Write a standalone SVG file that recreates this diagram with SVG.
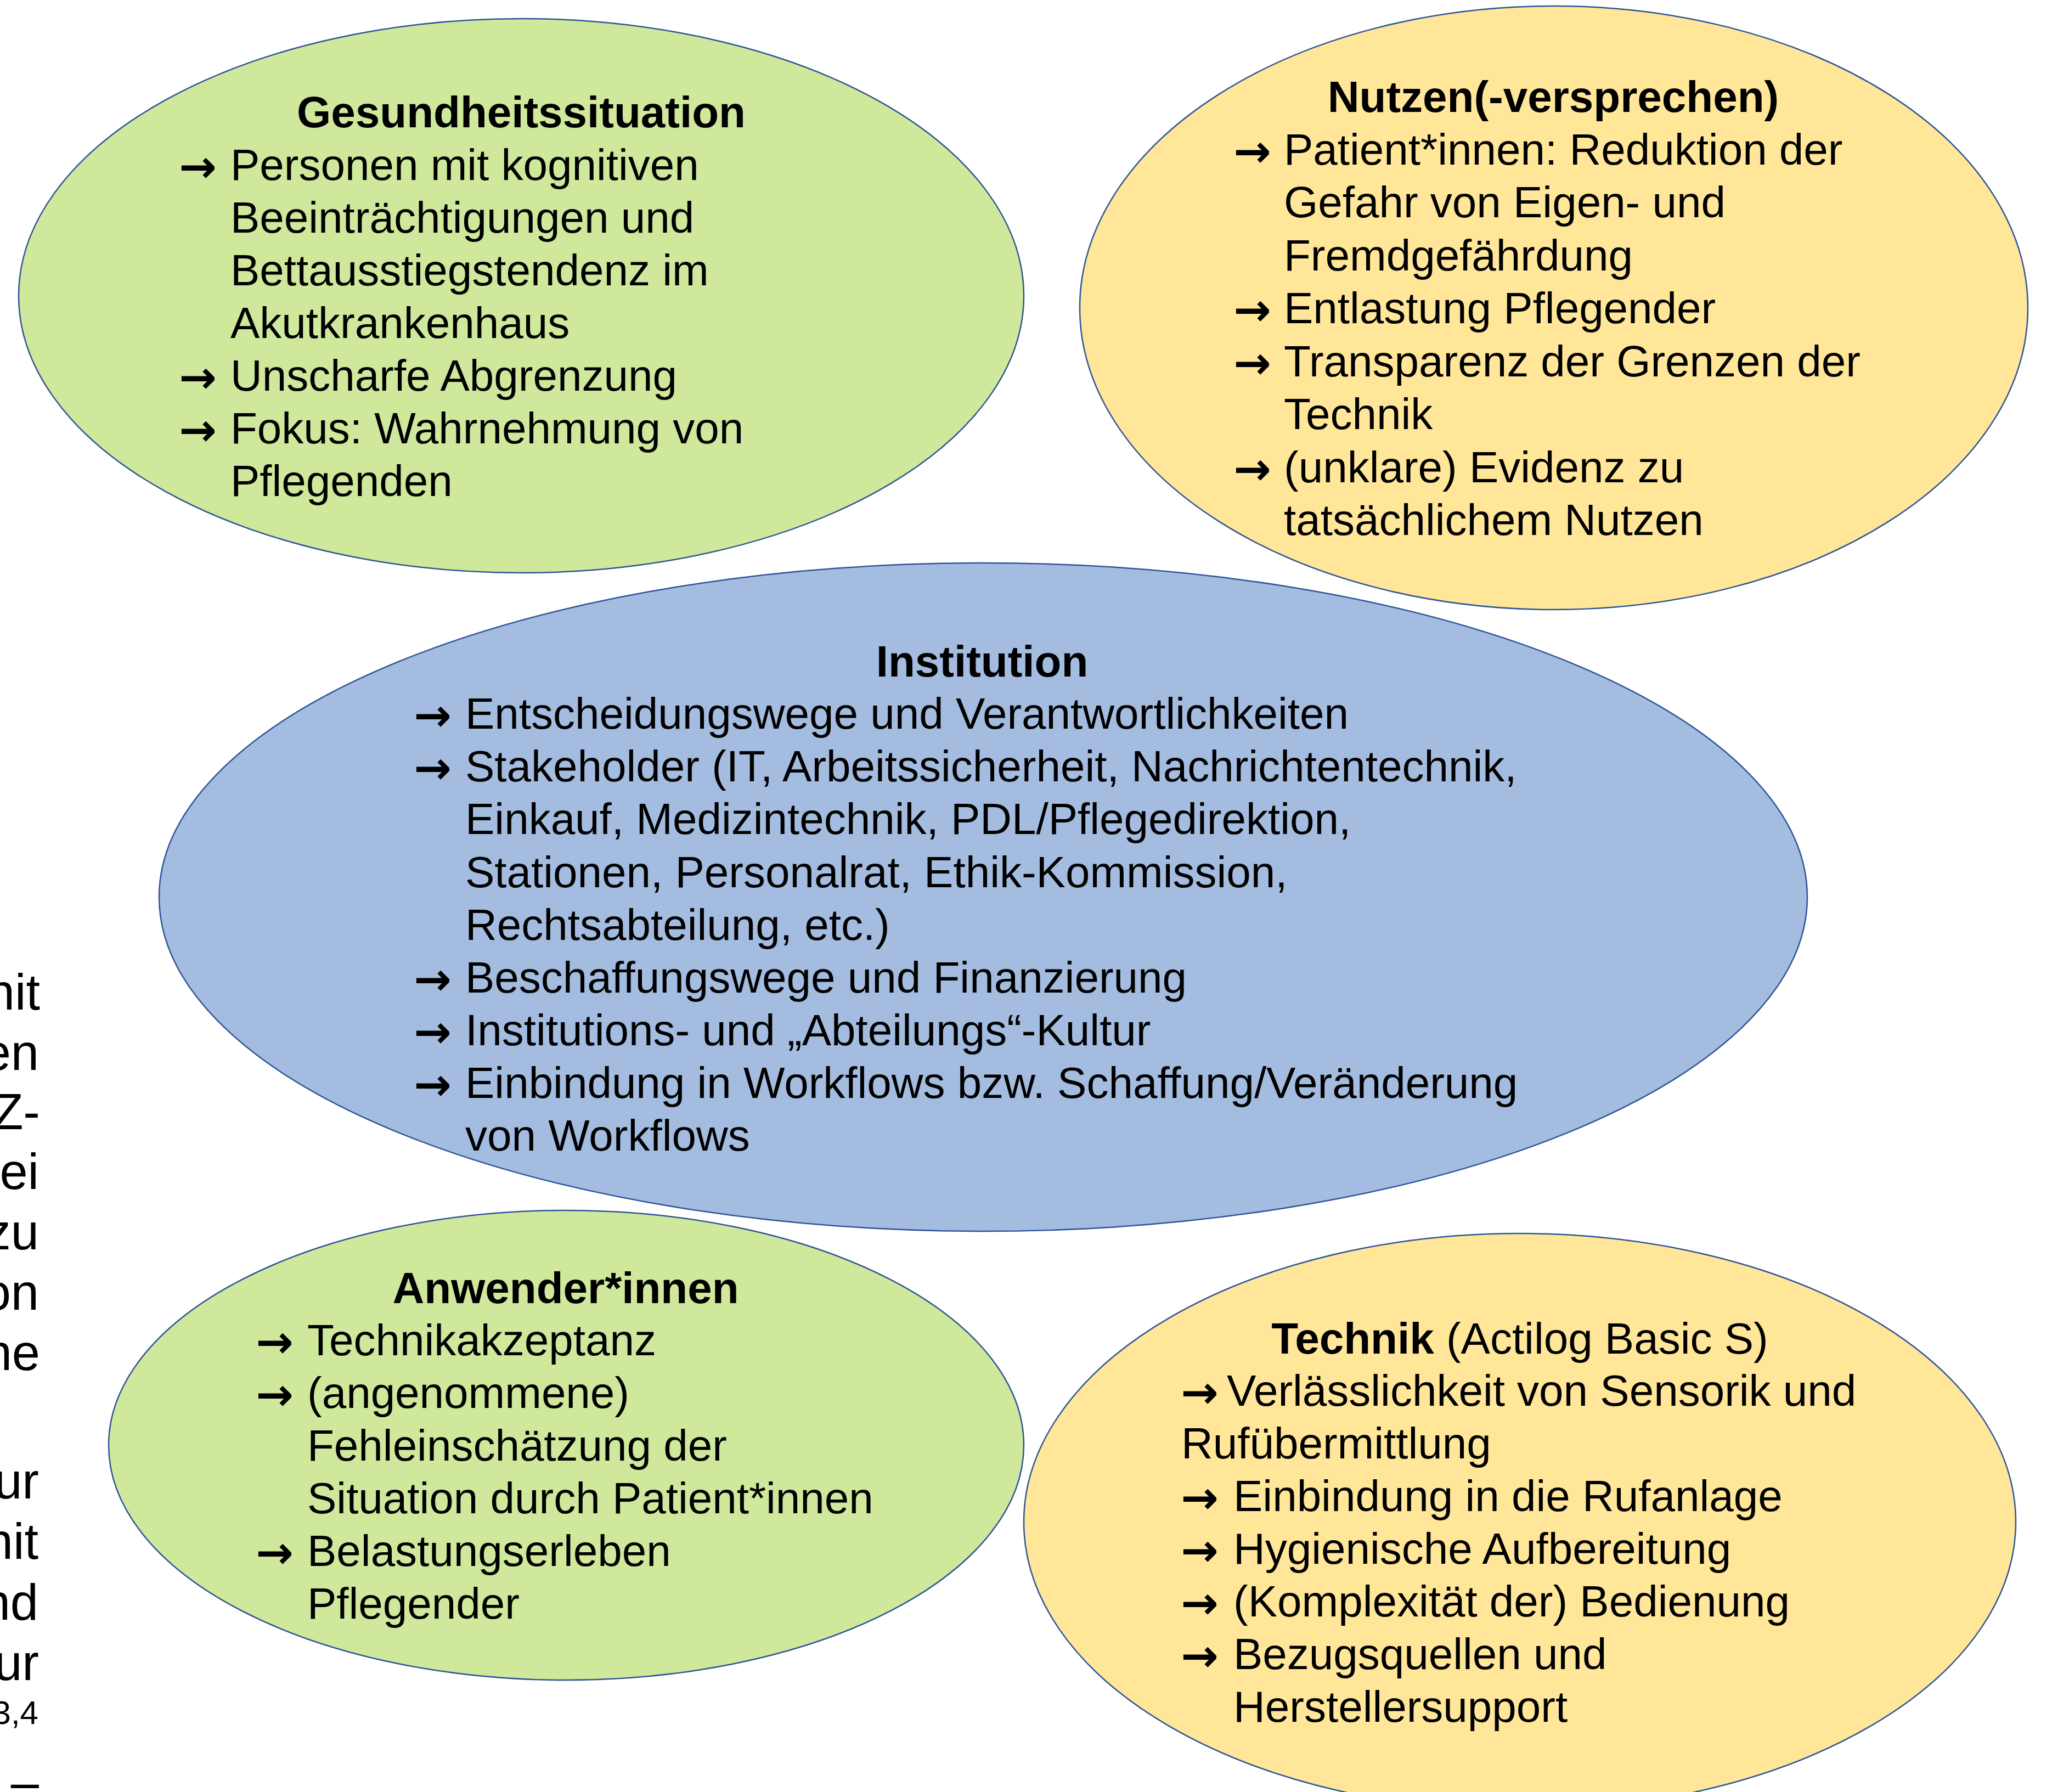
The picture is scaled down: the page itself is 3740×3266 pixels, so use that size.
<svg xmlns="http://www.w3.org/2000/svg" width="3740" height="3266" viewBox="0 0 3740 3266">
<style>
.bg{fill:#ffffff}
.node{stroke:#2F5597;stroke-width:2.5}
.green{fill:#CFE89B}
.yellow{fill:#FFE699}
.blue{fill:#A3BCDF}
text{font-family:"Liberation Sans",Arial,sans-serif;font-size:80px;fill:#000000}
.title{font-weight:bold;text-anchor:middle}
.arr{font-family:"DejaVu Sans",sans-serif;font-size:82px;font-weight:bold}
.side{font-size:92px;text-anchor:end}
.sup{font-size:60px;text-anchor:end}
</style>
<rect class="bg" x="0" y="0" width="3740" height="3266"/>
<g id="side-text">
<text class="side" x="73" y="1840">nit</text>
<text class="side" x="71" y="1950">en</text>
<text class="side" x="73" y="2058">Z-</text>
<text class="side" x="71" y="2167">ei</text>
<text class="side" x="71" y="2277">zu</text>
<text class="side" x="71" y="2387">on</text>
<text class="side" x="73" y="2497">ne</text>
<text class="side" x="71" y="2731">ur</text>
<text class="side" x="70" y="2841">nit</text>
<text class="side" x="70" y="2952">nd</text>
<text class="side" x="71" y="3062">ur</text>
<text class="sup" x="70" y="3142">3,4</text>
<text class="side" x="71" y="3279">–</text>
</g>
<g id="connectors"></g>
<g id="node-gesundheitssituation">
<ellipse class="node green" cx="950" cy="539" rx="916" ry="505"/>
<text class="title" x="950" y="232">Gesundheitssituation</text>
<text class="arr" x="326" y="332">→</text><text x="420" y="328">Personen mit kognitiven</text>
<text x="420" y="424">Beeinträchtigungen und</text>
<text x="420" y="520">Bettausstiegstendenz im</text>
<text x="420" y="616">Akutkrankenhaus</text>
<text class="arr" x="326" y="716">→</text><text x="420" y="712">Unscharfe Abgrenzung</text>
<text class="arr" x="326" y="812">→</text><text x="420" y="808">Fokus: Wahrnehmung von</text>
<text x="420" y="904">Pflegenden</text>
</g>
<g id="node-nutzen">
<ellipse class="node yellow" cx="2832" cy="561" rx="864" ry="550"/>
<text class="title" x="2831" y="204">Nutzen(-versprechen)</text>
<text class="arr" x="2248" y="304">→</text><text x="2340" y="300">Patient*innen: Reduktion der</text>
<text x="2340" y="396">Gefahr von Eigen- und</text>
<text x="2340" y="493">Fremdgefährdung</text>
<text class="arr" x="2248" y="593">→</text><text x="2340" y="589">Entlastung Pflegender</text>
<text class="arr" x="2248" y="690">→</text><text x="2340" y="686">Transparenz der Grenzen der</text>
<text x="2340" y="782">Technik</text>
<text class="arr" x="2248" y="883">→</text><text x="2340" y="879">(unklare) Evidenz zu</text>
<text x="2340" y="975">tatsächlichem Nutzen</text>
</g>
<g id="node-institution">
<ellipse class="node blue" cx="1792" cy="1635" rx="1502" ry="609"/>
<text class="title" x="1790" y="1233">Institution</text>
<text class="arr" x="754" y="1332">→</text><text x="848" y="1328">Entscheidungswege und Verantwortlichkeiten</text>
<text class="arr" x="754" y="1428">→</text><text x="848" y="1424">Stakeholder (IT, Arbeitssicherheit, Nachrichtentechnik,</text>
<text x="848" y="1520">Einkauf, Medizintechnik, PDL/Pflegedirektion,</text>
<text x="848" y="1617">Stationen, Personalrat, Ethik-Kommission,</text>
<text x="848" y="1713">Rechtsabteilung, etc.)</text>
<text class="arr" x="754" y="1813">→</text><text x="848" y="1809">Beschaffungswege und Finanzierung</text>
<text class="arr" x="754" y="1909">→</text><text x="848" y="1905">Institutions- und „Abteilungs“-Kultur</text>
<text class="arr" x="754" y="2005">→</text><text x="848" y="2001">Einbindung in Workflows bzw. Schaffung/Veränderung</text>
<text x="848" y="2097">von Workflows</text>
</g>
<g id="node-anwender">
<ellipse class="node green" cx="1032" cy="2634" rx="834" ry="428"/>
<text class="title" x="1031" y="2375">Anwender*innen</text>
<text class="arr" x="466" y="2474">→</text><text x="560" y="2470">Technikakzeptanz</text>
<text class="arr" x="466" y="2570">→</text><text x="560" y="2566">(angenommene)</text>
<text x="560" y="2662">Fehleinschätzung der</text>
<text x="560" y="2758">Situation durch Patient*innen</text>
<text class="arr" x="466" y="2858">→</text><text x="560" y="2854">Belastungserleben</text>
<text x="560" y="2950">Pflegender</text>
</g>
<g id="node-technik">
<ellipse class="node yellow" cx="2770" cy="2774" rx="904" ry="526"/>
<text x="2770" y="2467" style="text-anchor:middle"><tspan font-weight="bold">Technik</tspan> (Actilog Basic S)</text>
<text class="arr" x="2152" y="2566">→</text><text x="2236" y="2562">Verlässlichkeit von Sensorik und</text>
<text x="2153" y="2658">Rufübermittlung</text>
<text class="arr" x="2152" y="2758">→</text><text x="2248" y="2754">Einbindung in die Rufanlage</text>
<text class="arr" x="2152" y="2854">→</text><text x="2248" y="2850">Hygienische Aufbereitung</text>
<text class="arr" x="2152" y="2950">→</text><text x="2248" y="2946">(Komplexität der) Bedienung</text>
<text class="arr" x="2152" y="3046">→</text><text x="2248" y="3042">Bezugsquellen und</text>
<text x="2248" y="3138">Herstellersupport</text>
</g>
</svg>
